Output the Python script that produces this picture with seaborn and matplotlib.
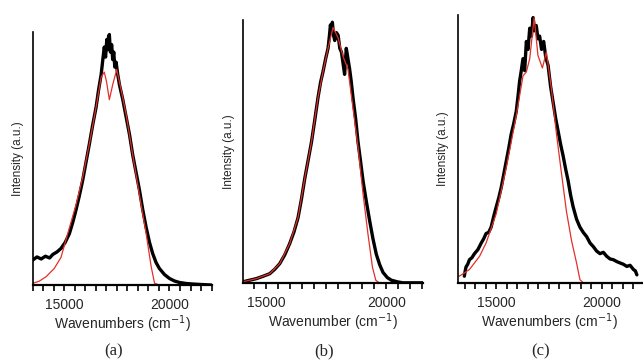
import numpy as np
import pandas as pd
import matplotlib.pyplot as plt
import seaborn as sns

sns.set_style("white", {'xtick.bottom': True, 'xtick.direction': 'out'})
plt.rcParams['font.family'] = ['Liberation Sans', 'DejaVu Sans']

# (a) measured spectrum (black) and fit (red)
a_x = [13500, 13700, 13900, 14100, 14300, 14450, 14650, 14840, 15040, 15240, 15400, 15555,
       15710, 15870, 16030, 16190, 16350, 16510, 16630, 16750, 16830, 16900, 16960, 17020,
       17060, 17100, 17140, 17190, 17250, 17300, 17350, 17400, 17460, 17540, 17620, 17780,
       17940, 18100, 18250, 18410, 18570, 18730, 18890, 19050, 19200, 19360, 19520, 19760,
       20000, 20240, 20480, 20800, 21100, 21500, 22000]
a_y = [0.10, 0.112, 0.104, 0.115, 0.108, 0.122, 0.132, 0.146, 0.17, 0.205, 0.25, 0.30,
       0.355, 0.417, 0.49, 0.563, 0.64, 0.71, 0.78, 0.84, 0.90, 0.95, 0.91, 0.98,
       0.94, 0.99, 1.0, 0.93, 0.96, 0.90, 0.93, 0.87, 0.89, 0.84, 0.80, 0.74,
       0.67, 0.60, 0.52, 0.45, 0.38, 0.30, 0.23, 0.17, 0.126, 0.09, 0.066, 0.042,
       0.026, 0.016, 0.01, 0.006, 0.004, 0.002, 0.0]
a_fit_x = [13500, 13800, 14130, 14520, 14840, 15160, 15555, 15870, 16190, 16510, 16750,
           16900, 17010, 17140, 17300, 17490, 17700, 17940, 18250, 18570, 18890, 19130,
           19290, 19520, 22000]
a_fit_y = [0.007, 0.015, 0.033, 0.066, 0.11, 0.205, 0.32, 0.43, 0.563, 0.71, 0.83,
           0.85, 0.81, 0.74, 0.80, 0.86, 0.78, 0.68, 0.52, 0.36, 0.205, 0.073,
           0.007, 0.0, 0.0]

# (b)
b_x = [14030, 14300, 14580, 14860, 15140, 15350, 15560, 15770, 15970, 16150, 16320, 16460,
       16600, 16740, 16880, 17010, 17150, 17260, 17360, 17470, 17570, 17630, 17670, 17710,
       17750, 17800, 17850, 17920, 17990, 18060, 18130, 18200, 18260, 18330, 18400, 18470,
       18540, 18610, 18720, 18820, 18920, 19030, 19170, 19300, 19440, 19580, 19720, 19860,
       20040, 20210, 20450, 20690, 21000, 21530]
b_y = [0.004, 0.01, 0.016, 0.025, 0.035, 0.052, 0.074, 0.108, 0.15, 0.195, 0.25, 0.32,
       0.40, 0.47, 0.54, 0.62, 0.71, 0.77, 0.81, 0.86, 0.90, 0.95, 0.99, 0.96,
       1.0, 0.95, 0.93, 0.96, 0.95, 0.90, 0.885, 0.84, 0.80, 0.90, 0.86, 0.82,
       0.77, 0.71, 0.63, 0.54, 0.47, 0.39, 0.31, 0.24, 0.17, 0.11, 0.07, 0.04,
       0.02, 0.01, 0.004, 0.0, 0.0, 0.0]
b_fit_x = [14030, 14580, 15140, 15560, 15970, 16320, 16600, 16880, 17150, 17360, 17570,
           17780, 17990, 18190, 18400, 18610, 18820, 19030, 19230, 19420, 19560, 19700, 21530]
b_fit_y = [0.004, 0.016, 0.035, 0.074, 0.15, 0.25, 0.40, 0.54, 0.71, 0.81, 0.90,
           0.98, 0.94, 0.87, 0.82, 0.67, 0.52, 0.34, 0.19, 0.06, 0.01, 0.0, 0.0]

# (c)
c_x = [13490, 13530, 13570, 13650, 13730, 13850, 13970, 14130, 14290, 14400, 14520, 14640,
       14760, 14880, 15000, 15120, 15240, 15360, 15480, 15600, 15710, 15830, 15950, 16030,
       16110, 16190, 16270, 16350, 16430, 16510, 16590, 16670, 16750, 16820, 16900, 16980,
       17060, 17150, 17250, 17350, 17460, 17580, 17700, 17820, 17940, 18060, 18170, 18290,
       18410, 18530, 18650, 18810, 18970, 19130, 19290, 19450, 19600, 19760, 19920, 20080,
       20240, 20400, 20560, 20720, 20870, 21030, 21190, 21350, 21510, 21600, 21670]
c_y = [0.025, 0.045, 0.06, 0.07, 0.087, 0.095, 0.11, 0.125, 0.15, 0.165, 0.186, 0.19,
       0.21, 0.25, 0.286, 0.32, 0.36, 0.41, 0.46, 0.51, 0.56, 0.60, 0.646, 0.70,
       0.76, 0.80, 0.845, 0.80, 0.91, 0.88, 0.96, 0.93, 1.0, 0.95, 0.97, 0.92,
       0.93, 0.88, 0.91, 0.85, 0.82, 0.74, 0.68, 0.62, 0.57, 0.52, 0.48, 0.43,
       0.385, 0.33, 0.286, 0.24, 0.21, 0.19, 0.174, 0.15, 0.137, 0.12, 0.11, 0.115,
       0.10, 0.09, 0.087, 0.08, 0.075, 0.07, 0.062, 0.066, 0.05, 0.045, 0.03]
c_fit_x = [13180, 13250, 13730, 14210, 14520, 15000, 15480, 15950, 16270, 16430, 16590,
           16800, 16980, 17190, 17380, 17620, 17860, 18100, 18330, 18570, 18810, 18970,
           19130, 21900]
c_fit_y = [0.025, 0.025, 0.05, 0.10, 0.15, 0.26, 0.435, 0.63, 0.78, 0.795, 0.845,
           1.0, 0.857, 0.81, 0.87, 0.73, 0.56, 0.41, 0.27, 0.16, 0.075, 0.012,
           0.0, 0.0]

panels = [
    (a_x, a_y, a_fit_x, a_fit_y, (13500, 22000), 'Wavenumbers (cm$^{-1}$)', '(a)',
     [0.051, 0.217, 0.278, 0.695]),
    (b_x, b_y, b_fit_x, b_fit_y, (14030, 21530), 'Wavenumber (cm$^{-1}$)', '(b)',
     [0.378, 0.223, 0.280, 0.723]),
    (c_x, c_y, c_fit_x, c_fit_y, (13180, 21900), 'Wavenumbers (cm$^{-1}$)', '(c)',
     [0.712, 0.223, 0.286, 0.736]),
]

fig = plt.figure(figsize=(6.43, 3.64), dpi=100)

for xs, ys, fx, fy, xlim, xlabel, tag, rect in panels:
    ax = fig.add_axes(rect)
    data = pd.DataFrame({'x': xs, 'y': ys})
    fit = pd.DataFrame({'x': fx, 'y': fy})
    sns.lineplot(data=data, x='x', y='y', color='black', linewidth=2.4, ax=ax)
    sns.lineplot(data=fit, x='x', y='y', color='#e2302a', linewidth=0.9, ax=ax)
    tick_pos = [t for t in range(13000, 22001, 500) if xlim[0] <= t <= xlim[1]]
    tick_lab = [str(t) if t in (15000, 20000) else '' for t in tick_pos]
    ax.set_xticks(tick_pos, tick_lab)
    ax.set_xlim(*xlim)
    ax.set_ylim(0, 1.01)
    ax.set_yticks([])
    ax.tick_params(axis='x', which='major', bottom=True, direction='out', color='black',
                   length=4.5, width=1.2, labelsize=10, pad=5)
    ax.tick_params(axis='y', which='both', left=False)
    ax.spines['top'].set_visible(False)
    ax.spines['right'].set_visible(False)
    ax.spines['left'].set_linewidth(1.2)
    ax.spines['bottom'].set_linewidth(1.6)
    ax.spines['left'].set_color('black')
    ax.spines['bottom'].set_color('black')
    ax.set_xlabel(xlabel, fontsize=10, labelpad=1)
    ax.set_ylabel('Intensity (a.u.)', fontsize=8.5, labelpad=6)
    cx = rect[0] + rect[2] * 0.45
    fig.text(cx, 0.035, tag, ha='center', va='center',
             fontsize=12, family=['Liberation Serif', 'DejaVu Serif'])

plt.savefig('out.png', dpi=100)
